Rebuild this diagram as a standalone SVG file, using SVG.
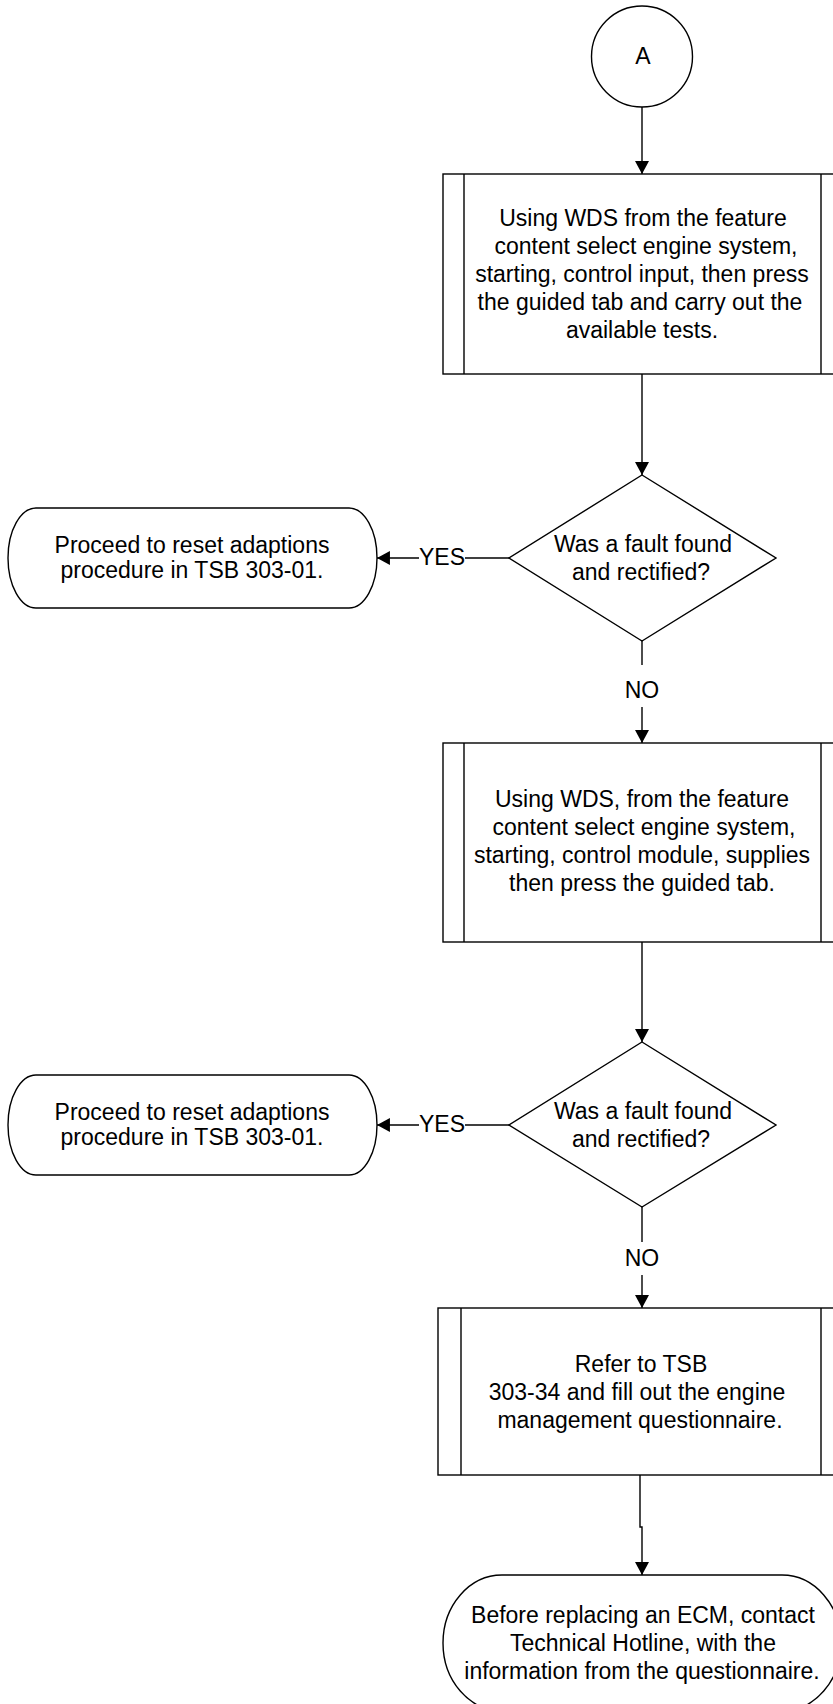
<svg xmlns="http://www.w3.org/2000/svg" width="833" height="1704" viewBox="0 0 833 1704">
<style>
.s{fill:#fff;stroke:#000;stroke-width:1.4}
.l{fill:none;stroke:#000;stroke-width:1.4}
text{font-family:"Liberation Sans",Arial,sans-serif;font-size:23px;fill:#000;text-anchor:middle}
</style>
<defs>
<marker id="ah" markerUnits="userSpaceOnUse" markerWidth="14" markerHeight="14" viewBox="0 0 12 13" refX="12" refY="6.5" orient="auto">
<path d="M0,0 L12,6.5 L0,13 Z" fill="#000"/>
</marker>
</defs>
<rect width="833" height="1704" fill="#fff"/>
<g id="connectors">
<path class="l" d="M642,107 V174" marker-end="url(#ah)"/>
<path class="l" d="M642,374 V475" marker-end="url(#ah)"/>
<path class="l" d="M509,558 H465"/>
<path class="l" d="M419,558 H377" marker-end="url(#ah)"/>
<path class="l" d="M642,641 V665"/>
<path class="l" d="M642,707 V743" marker-end="url(#ah)"/>
<path class="l" d="M642,942 V1042" marker-end="url(#ah)"/>
<path class="l" d="M509,1125 H465"/>
<path class="l" d="M419,1125 H377" marker-end="url(#ah)"/>
<path class="l" d="M642,1207 V1242"/>
<path class="l" d="M642,1275 V1308" marker-end="url(#ah)"/>
<path class="l" d="M640,1475 V1527 H642 V1575" marker-end="url(#ah)"/>
<text x="442" y="565">YES</text>
<text x="642" y="698">NO</text>
<text x="442" y="1132">YES</text>
<text x="642" y="1266">NO</text>
</g>
<g id="start">
<circle class="s" cx="642" cy="56.5" r="50.5"/>
<text x="643" y="64">A</text>
</g>
<g id="proc1">
<rect class="s" x="443" y="174" width="399" height="200"/>
<path class="l" d="M464,174 V374 M821,174 V374"/>
<text x="643" y="226">Using WDS from the feature</text>
<text x="646" y="254">content select engine system,</text>
<text x="642" y="282">starting, control input, then press</text>
<text x="640" y="310">the guided tab and carry out the</text>
<text x="642" y="338">available tests.</text>
</g>
<g id="dec1">
<path class="s" d="M642,475 L776,558 L642,641 L509,558 Z"/>
<text x="643" y="552">Was a fault found</text>
<text x="641" y="580">and rectified?</text>
</g>
<g id="term1">
<path class="s" d="M36,508 H349 A28 50 0 0 1 349,608 H36 A28 50 0 0 1 36,508 Z"/>
<text x="192" y="553">Proceed to reset adaptions</text>
<text x="192" y="578">procedure in TSB 303-01.</text>
</g>
<g id="proc2">
<rect class="s" x="443" y="743" width="399" height="199"/>
<path class="l" d="M464,743 V942 M821,743 V942"/>
<text x="642" y="807">Using WDS, from the feature</text>
<text x="644" y="835">content select engine system,</text>
<text x="642" y="863">starting, control module, supplies</text>
<text x="642" y="891">then press the guided tab.</text>
</g>
<g id="dec2">
<path class="s" d="M642,1042 L776,1125 L642,1207 L509,1125 Z"/>
<text x="643" y="1119">Was a fault found</text>
<text x="641" y="1147">and rectified?</text>
</g>
<g id="term2">
<path class="s" d="M36,1075 H349 A28 50 0 0 1 349,1175 H36 A28 50 0 0 1 36,1075 Z"/>
<text x="192" y="1120">Proceed to reset adaptions</text>
<text x="192" y="1145">procedure in TSB 303-01.</text>
</g>
<g id="proc3">
<rect class="s" x="438" y="1308" width="406" height="167"/>
<path class="l" d="M461,1308 V1475 M821,1308 V1475"/>
<text x="641" y="1372">Refer to TSB</text>
<text x="637" y="1400">303-34 and fill out the engine</text>
<text x="640" y="1428">management questionnaire.</text>
</g>
<g id="end">
<path class="s" d="M502,1575 H782 A59 68 0 0 1 782,1711 H502 A59 68 0 0 1 502,1575 Z"/>
<text x="643" y="1623">Before replacing an ECM, contact</text>
<text x="643" y="1651">Technical Hotline, with the</text>
<text x="642" y="1679">information from the questionnaire.</text>
</g>
</svg>
